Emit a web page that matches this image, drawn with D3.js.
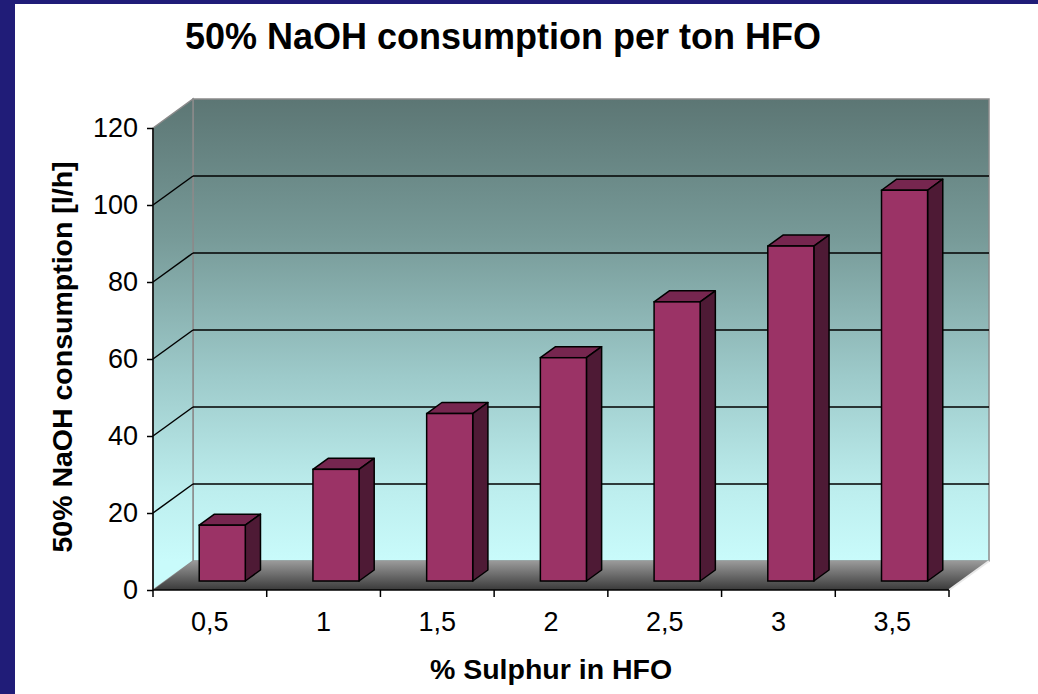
<!DOCTYPE html>
<html>
<head>
<meta charset="utf-8">
<script src="https://cdn.jsdelivr.net/npm/d3@7"></script>
<style>
  body { margin: 0; background: #fff; }
  svg { display: block; font-family: "Liberation Sans", Arial, sans-serif; }
</style>
</head>
<body>
<svg id="chart" width="1038" height="694"></svg>
<script>
// Data: 50% NaOH consumption by sulphur content of heavy fuel oil
const categories = ["0,5", "1", "1,5", "2", "2,5", "3", "3,5"];
const consumption = [14.5, 29, 43.5, 58, 72.5, 87, 101.5];
const yTicks = [0, 20, 40, 60, 80, 100, 120];
const chartTitle = "50% NaOH consumption per ton HFO";
const xTitle = "% Sulphur in HFO";
const yTitle = "50% NaOH consumption [l/h]";

const W = 1038, H = 694;
const svg = d3.select("#chart");

// slide frame
svg.append("rect").attr("width", W).attr("height", H).attr("fill", "#201c78");
svg.append("rect").attr("x", 15).attr("y", 4).attr("width", W - 15).attr("height", H - 4).attr("fill", "#fff");

// scales on the front plane of the 3-D box
const x = d3.scaleBand().domain(categories).range([153, 949]);
const y = d3.scaleLinear().domain([0, 120]).range([590, 128]);
const DX = 40, DY = -29;             // full depth offset of the box
const tFront = 0.31, tBack = 0.69;   // depth band occupied by the bars
const barFrac = 0.405;

const defs = svg.append("defs");
const wallGrad = defs.append("linearGradient").attr("id", "wall")
  .attr("gradientUnits", "userSpaceOnUse").attr("x1", 0).attr("x2", 0)
  .attr("y1", y(120) + DY).attr("y2", y(0) + DY);
[[0, "#5c7674"], [0.3, "#779a98"], [0.6, "#9dcaca"], [0.85, "#bdeeee"], [1, "#c9fbfb"]]
  .forEach(([o, c]) => wallGrad.append("stop").attr("offset", o).attr("stop-color", c));

const floorGrad = defs.append("linearGradient").attr("id", "floor")
  .attr("gradientUnits", "userSpaceOnUse").attr("x1", 0).attr("x2", 0)
  .attr("y1", y(0) + DY).attr("y2", y(0));
[[0, "#9a9a9a"], [1, "#3a3a3a"]]
  .forEach(([o, c]) => floorGrad.append("stop").attr("offset", o).attr("stop-color", c));

const pts = a => a.map(p => p.join(",")).join(" ");
const x0 = x.range()[0], x1 = x.range()[1];

// back wall
svg.append("polygon")
  .attr("points", pts([[x0 + DX, y(120) + DY], [x1 + DX, y(120) + DY], [x1 + DX, y(0) + DY], [x0 + DX, y(0) + DY]]))
  .attr("fill", "url(#wall)").attr("stroke", "#8a8a8a").attr("stroke-width", 1.5);
// side wall
svg.append("polygon")
  .attr("points", pts([[x0, y(120)], [x0 + DX, y(120) + DY], [x0 + DX, y(0) + DY], [x0, y(0)]]))
  .attr("fill", "url(#wall)").attr("stroke", "#8a8a8a").attr("stroke-width", 1.5);

// gridlines
const grid = yTicks.filter(v => v > 0 && v < 120);
svg.append("g").selectAll("line.back").data(grid).join("line")
  .attr("x1", x0 + DX).attr("x2", x1 + DX)
  .attr("y1", d => y(d) + DY).attr("y2", d => y(d) + DY)
  .attr("stroke", "#000").attr("stroke-width", 1.5);
svg.append("g").selectAll("line.side").data(grid).join("line")
  .attr("x1", x0).attr("x2", x0 + DX)
  .attr("y1", d => y(d)).attr("y2", d => y(d) + DY)
  .attr("stroke", "#000").attr("stroke-width", 1.5);

// floor
svg.append("polygon")
  .attr("points", pts([[x0, y(0)], [x1, y(0)], [x1 + DX, y(0) + DY], [x0 + DX, y(0) + DY]]))
  .attr("fill", "url(#floor)");
svg.append("line")
  .attr("x1", x1).attr("y1", y(0)).attr("x2", x1 + DX).attr("y2", y(0) + DY)
  .attr("stroke", "#e8e8e8").attr("stroke-width", 2);

// bars
const bars = svg.append("g").selectAll("g").data(categories.map((c, i) => ({ c, v: consumption[i] }))).join("g");
const bw = x.bandwidth() * barFrac;
const fx = d => x(d.c) + (x.bandwidth() - bw) / 2 + DX * tFront;
const fyTop = d => y(d.v) + DY * tFront;
const fyBot = () => y(0) + DY * tFront;
const ddx = DX * (tBack - tFront), ddy = DY * (tBack - tFront);

bars.append("polygon")
  .attr("points", d => pts([[fx(d), fyTop(d)], [fx(d) + bw, fyTop(d)], [fx(d) + bw + ddx, fyTop(d) + ddy], [fx(d) + ddx, fyTop(d) + ddy]]))
  .attr("fill", "#76264f").attr("stroke", "#000").attr("stroke-width", 1.5).attr("stroke-linejoin", "round");
bars.append("polygon")
  .attr("points", d => pts([[fx(d) + bw, fyTop(d)], [fx(d) + bw + ddx, fyTop(d) + ddy], [fx(d) + bw + ddx, fyBot() + ddy], [fx(d) + bw, fyBot()]]))
  .attr("fill", "#4e1a35").attr("stroke", "#000").attr("stroke-width", 1.5).attr("stroke-linejoin", "round");
bars.append("rect")
  .attr("x", fx).attr("y", fyTop).attr("width", bw).attr("height", d => fyBot() - fyTop(d))
  .attr("fill", "#9b3366").attr("stroke", "#000").attr("stroke-width", 1.5);

// axes
const yAxis = svg.append("g").attr("transform", `translate(${x0},0)`)
  .call(d3.axisLeft(y).tickValues(yTicks).tickSize(6).tickPadding(9).tickFormat(d3.format("d")));
yAxis.select(".domain").attr("stroke", "#000").attr("stroke-width", 1.5).attr("d", `M0,${y(120)}V${y(0)}`);
yAxis.selectAll(".tick line").attr("stroke", "#000").attr("stroke-width", 1.5);
yAxis.selectAll(".tick text").attr("font-size", 27).attr("fill", "#000")
  .attr("font-family", "'Liberation Sans', Arial, sans-serif");

const xAxis = svg.append("g").attr("transform", `translate(0,${y(0)})`)
  .call(d3.axisBottom(x).tickSize(0).tickPadding(22));
xAxis.select(".domain").attr("stroke", "#000").attr("stroke-width", 1.5).attr("d", `M${x0},0H${x1}`);
xAxis.selectAll(".tick text").attr("font-size", 27).attr("fill", "#000")
  .attr("font-family", "'Liberation Sans', Arial, sans-serif");
// category separators
const bounds = categories.map(c => x(c)).concat([x1]);
xAxis.append("g").selectAll("line").data(bounds).join("line")
  .attr("x1", d => d).attr("x2", d => d).attr("y1", 0).attr("y2", 7)
  .attr("stroke", "#000").attr("stroke-width", 1.5);

// titles
svg.append("text").attr("x", 503).attr("y", 49).attr("text-anchor", "middle")
  .attr("font-size", 36).attr("font-weight", "bold").attr("fill", "#000").text(chartTitle);
svg.append("text").attr("x", 551).attr("y", 679).attr("text-anchor", "middle")
  .attr("font-size", 28.5).attr("font-weight", "bold").attr("fill", "#000").text(xTitle);
svg.append("text").attr("transform", "translate(72,357) rotate(-90)").attr("text-anchor", "middle")
  .attr("font-size", 28.5).attr("font-weight", "bold").attr("fill", "#000").text(yTitle);
</script>
</body>
</html>
